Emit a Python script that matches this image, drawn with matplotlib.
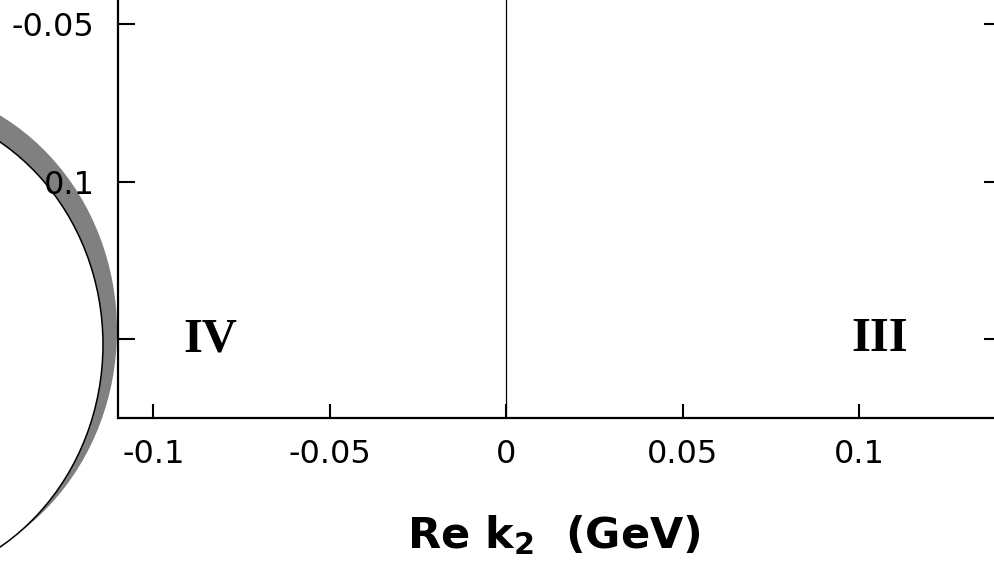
import matplotlib
matplotlib.use("Agg")
import matplotlib.pyplot as plt
from matplotlib.patches import Ellipse

# Axis ticks and labels
x_ticks = [-0.1, -0.05, 0.0, 0.05, 0.1]
x_tick_labels = ["-0.1", "-0.05", "0", "0.05", "0.1"]
y_ticks = [-0.05, -0.1, -0.15]
y_tick_labels = ["-0.05", "0.1", ""]
x_limits = (-0.11, 0.14)
y_limits = (-0.175, -0.03)

# Ellipse bands in the complex k2 plane: (centre Re, centre Im, width, height)
band_outer = (-0.17507, -0.14730, 0.12946, 0.15651)
band_inner = (-0.17720, -0.15175, 0.12578, 0.15238)

# Quadrant labels: (text, Re, Im)
quadrants = [("IV", -0.0839, -0.15), ("III", 0.1058, -0.15)]

fig = plt.figure(figsize=(9.94, 5.64), dpi=100)
ax = fig.add_axes([0.1189, 0.2593, 0.8878, 0.8098])
ax.set_xlim(*x_limits)
ax.set_ylim(*y_limits)

# shaded band and its inner boundary
ax.add_patch(Ellipse(band_outer[:2], band_outer[2], band_outer[3],
                     facecolor="#808080", edgecolor="none", clip_on=False, zorder=1))
ax.add_patch(Ellipse(band_inner[:2], band_inner[2], band_inner[3],
                     facecolor="white", edgecolor="black", linewidth=1.1,
                     clip_on=False, zorder=1.1))

# imaginary axis
ax.axvline(0.0, color="black", linewidth=0.9, zorder=2)

for text, xr, yi in quadrants:
    ax.text(xr, yi, text, family="Liberation Serif", fontweight="bold",
            fontsize=35, ha="center", va="center")

ax.set_xticks(x_ticks)
ax.set_xticklabels(x_tick_labels)
ax.set_yticks(y_ticks)
ax.set_yticklabels(y_tick_labels)

for s in ax.spines.values():
    s.set_linewidth(1.6)
ax.tick_params(axis="x", direction="in", length=10, width=1.5, pad=15,
               labelsize=23, top=True, bottom=True)
ax.tick_params(axis="y", direction="in", length=12, width=1.5, pad=17,
               labelsize=23, left=True, right=True)

fig.text(553.5 / 994, 16 / 564, r"Re k$_\mathbf{2}$  (GeV)", fontsize=31,
         fontweight="bold", ha="center", va="baseline")

fig.savefig("out.png", dpi=100)
